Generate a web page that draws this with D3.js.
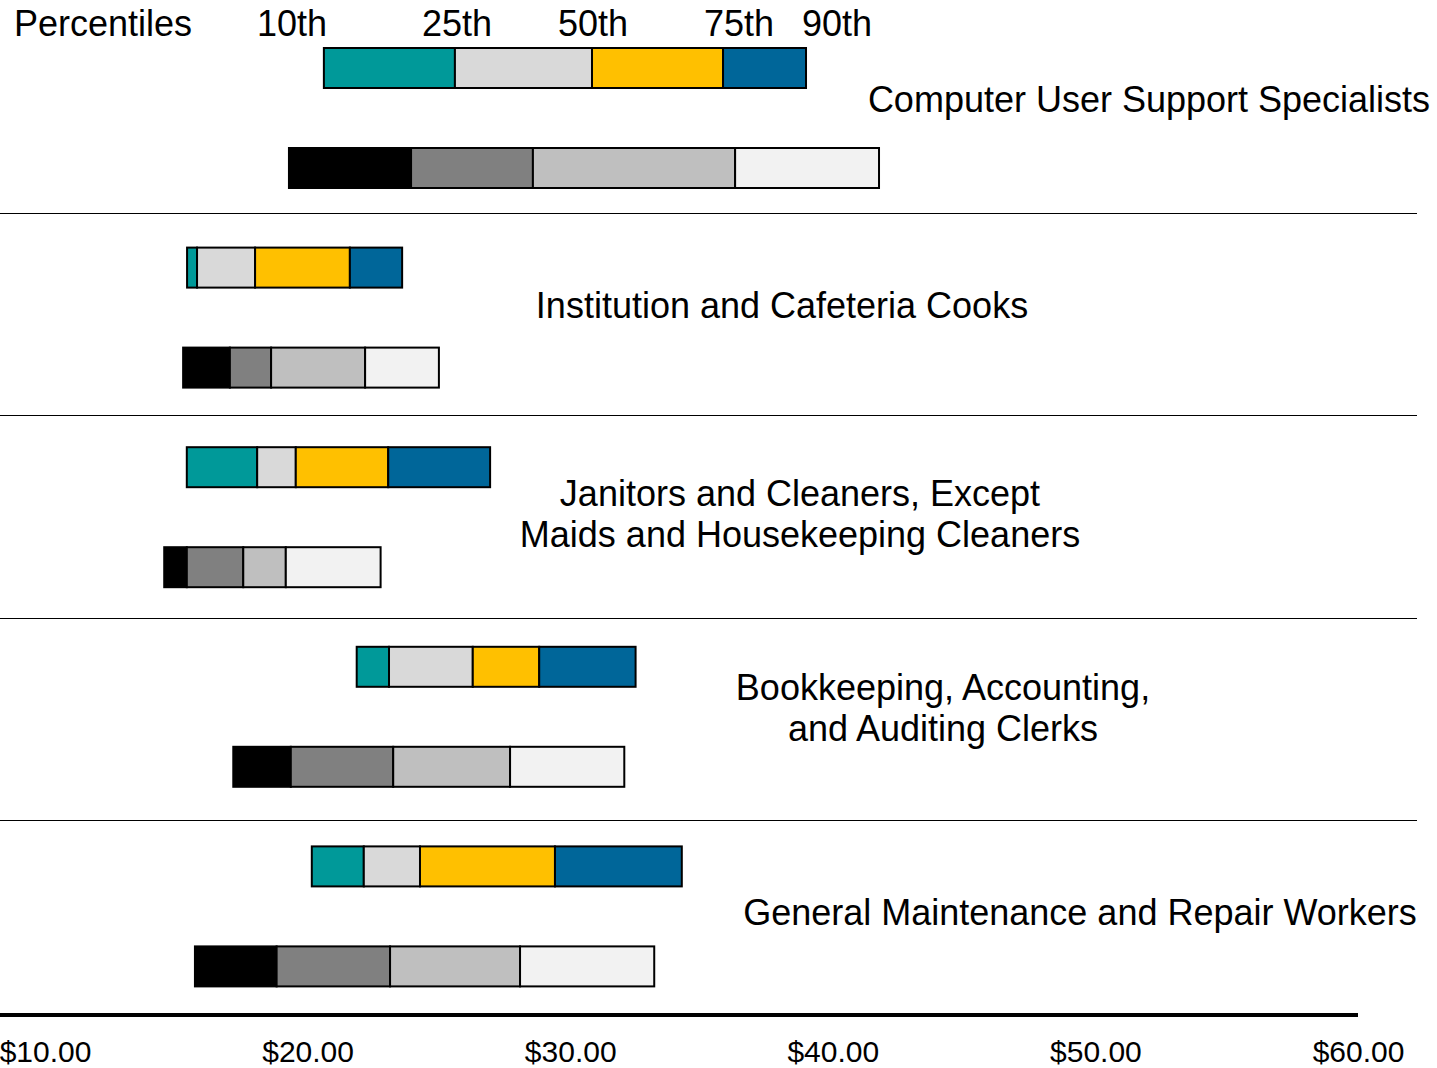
<!DOCTYPE html>
<html>
<head>
  <meta http-equiv="Content-Type" content="text/html;charset=utf-8">
  <title>Wage percentiles</title>
  <script src="https://d3js.org/d3.v7.min.js"></script>
  <style type="text/css">
    body { margin: 0; background: #fff; }
    text { font-family: "Liberation Sans", Arial, sans-serif; fill: #000; }
    .seg { stroke: #000; stroke-width: 2px; }
    .sep { stroke: #000; stroke-width: 1px; }
  </style>
</head>
<body>
  <svg width="1437" height="1068"></svg>
  <script type='text/javascript'>
    // occupations (label lines)
    const occupations = [
      ['Computer User Support Specialists'],
      ['Institution and Cafeteria Cooks'],
      ['Janitors and Cleaners, Except', 'Maids and Housekeeping Cleaners'],
      ['Bookkeeping, Accounting,', 'and Auditing Clerks'],
      ['General Maintenance and Repair Workers']
    ];
    // 10th, 25th, 50th, 75th, 90th percentile hourly wages (colour bar)
    const wagesTop = [
      [20.62, 25.61, 30.83, 35.82, 38.98],
      [15.41, 15.79, 18.00, 21.61, 23.60],
      [15.40, 18.08, 19.55, 23.07, 26.95],
      [21.87, 23.10, 26.29, 28.82, 32.49],
      [20.16, 22.14, 24.28, 29.42, 34.25]
    ];
    // same percentiles, grey bar
    const wagesBottom = [
      [19.29, 23.94, 28.58, 36.28, 41.76],
      [15.26, 17.04, 18.61, 22.19, 25.00],
      [14.54, 15.40, 17.55, 19.17, 22.78],
      [17.17, 19.36, 23.26, 27.71, 32.06],
      [15.71, 18.82, 23.14, 28.09, 33.20]
    ];
    const percentiles = ['10th', '25th', '50th', '75th', '90th'];
    const ticks = [10, 20, 30, 40, 50, 60];

    const topColors = ['#009999', '#d9d9d9', '#ffc000', '#006699'];
    const bottomColors = ['#000000', '#808080', '#bfbfbf', '#f2f2f2'];

    // label layout (centre x, first baseline)
    const labelX = [1149, 782, 800, 943, 1080];
    const labelY = [112, 318, 506, 700, 925];
    const headerX = [292, 457, 593, 739, 837];

    const svg = d3.select('svg');

    const x = d3.scaleLinear().domain([10, 60]).range([45, 1358]);
    const y = d3.scaleLinear().domain([0, 5]).range([48, 1046]);
    const ySep = d3.scaleLinear().domain([1, 4]).range([213, 820]);
    const barH = 40;

    // header
    svg.append('text').attr('x', 14).attr('y', 36)
      .style('font-size', '36px').text('Percentiles');
    svg.selectAll('.hdr').data(percentiles).enter().append('text')
      .attr('class', 'hdr')
      .attr('x', (d, i) => headerX[i]).attr('y', 36)
      .attr('text-anchor', 'middle')
      .style('font-size', '36px')
      .text((d) => d);

    // separators
    svg.selectAll('.sep').data(d3.range(1, occupations.length)).enter().append('line')
      .attr('class', 'sep')
      .attr('x1', 0).attr('x2', 1417)
      .attr('y1', (d) => Math.round(ySep(d)) + 0.5)
      .attr('y2', (d) => Math.round(ySep(d)) + 0.5);

    function drawBar(rows, colors, offset) {
      rows.forEach((vals, i) => {
        const segs = d3.pairs(vals);
        svg.selectAll(null).data(segs).enter().append('rect')
          .attr('class', 'seg')
          .attr('x', (d) => x(d[0]))
          .attr('width', (d) => x(d[1]) - x(d[0]))
          .attr('y', y(i) + offset)
          .attr('height', barH)
          .attr('fill', (d, j) => colors[j]);
      });
    }
    drawBar(wagesTop, topColors, 0);
    drawBar(wagesBottom, bottomColors, 100);

    // occupation labels
    occupations.forEach((lines, i) => {
      const t = svg.append('text')
        .attr('text-anchor', 'middle')
        .style('font-size', '36px');
      lines.forEach((ln, k) => {
        t.append('tspan').attr('x', labelX[i]).attr('y', labelY[i] + k * 41).text(ln);
      });
    });

    // axis
    const axis = d3.axisBottom(x).tickValues(ticks).tickSize(0).tickPadding(0)
      .tickFormat(d3.format('$.2f'));
    const gAxis = svg.append('g').attr('transform', 'translate(0,1015)').call(axis);
    gAxis.select('.domain').attr('d', 'M0,0H1358').attr('stroke', '#000').attr('stroke-width', 4);
    gAxis.selectAll('text')
      .attr('dy', null).attr('y', 47)
      .style('font-size', '30px')
      .attr('font-family', null);
  </script>
</body>
</html>
